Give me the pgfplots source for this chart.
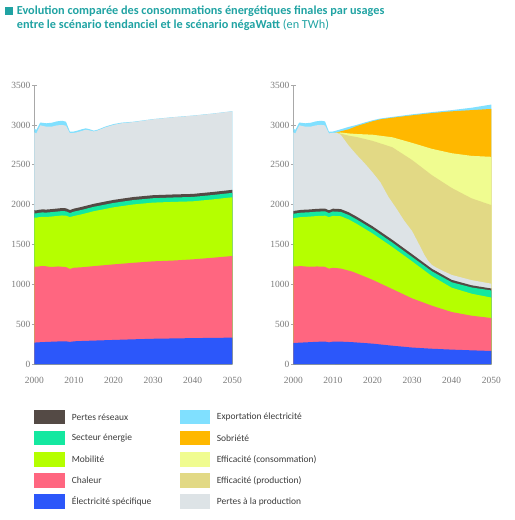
\documentclass[border=0pt]{standalone}
\usepackage{pgfplots}
\pgfplotsset{compat=1.18}
\usepackage{fontspec}
\setmainfont{Carlito}
\newfontfamily\tickfont{Liberation Serif}
\newcommand{\tkf}{\tickfont\fontsize{9.5}{10}\selectfont}
\definecolor{titlecol}{HTML}{20A3A3}
\definecolor{legtext}{HTML}{3C3C3C}
\definecolor{axgray}{HTML}{A8A8A8}
\definecolor{ticktext}{HTML}{7A7A7A}
\definecolor{celec}{HTML}{2C57FA}
\definecolor{cchal}{HTML}{FF6680}
\definecolor{cmob}{HTML}{B5FF00}
\definecolor{csect}{HTML}{14E8A0}
\definecolor{cres}{HTML}{544A45}
\definecolor{cprod}{HTML}{DDE3E6}
\definecolor{cexp}{HTML}{80E0FF}
\definecolor{csob}{HTML}{FFB800}
\definecolor{ccons}{HTML}{F0FC90}
\definecolor{ceffp}{HTML}{E2D985}
\pgfplotsset{myax/.style={
  scale only axis, width=198bp, height=279.3bp,
  xmin=2000, xmax=2050, ymin=0, ymax=3500,
  axis y line*=left, axis x line*=bottom,
  x axis line style={draw=none},
  y axis line style={-, draw=axgray, line width=0.8pt},
  xtick={2000,2010,...,2050}, ytick={0,500,...,3500},
  xtick style={draw=none}, ytick style={draw=axgray, line width=0.6pt},
  tick align=center, major tick length=5bp,
  every tick label/.append style={font=\tkf, text=ticktext},
  xticklabel={\tkf\pgfmathprintnumber[assume math mode=true,set thousands separator={}]{\tick}},
  yticklabel={\tkf\pgfmathprintnumber[assume math mode=true,set thousands separator={}]{\tick}},
  xticklabel style={yshift=-6.5bp},
  yticklabel style={xshift=2bp},
  clip=false,
}}
\begin{document}
\begin{tikzpicture}[x=1bp,y=1bp]
\path[use as bounding box] (0bp,0bp) rectangle (515bp,520bp);
% title
\fill[titlecol] (5bp,505bp) rectangle (12.5bp,512.5bp);
\node[anchor=base west, inner sep=0, text=titlecol, font=\fontsize{12.3}{14}\selectfont\bfseries] at (16.7bp,505bp) {Evolution comparée des consommations énergétiques finales par usages};
\node[anchor=base west, inner sep=0, text=titlecol, font=\fontsize{12.3}{14}\selectfont\bfseries] at (16.7bp,491bp) {entre le scénario tendanciel et le scénario négaWatt \mdseries(en TWh)};

% ---------------- left: scenario tendanciel
\begin{axis}[myax, at={(34.3bp,155.7bp)}, anchor=south west]
% Exportation
\addplot[fill=cexp, draw=none] coordinates {(2000,2957)(2000.5,2935)(2001.5,3030)(2003,3020)(2004.4,3027)(2005.7,3044)(2007,3052)(2008,3040)(2009,2915)(2010,2917)(2011,2930)(2012,2945)(2013,2957)(2014,2945)(2015,2928)(2016,2940)(2017,2960)(2018,2980)(2019,2995)(2020,3010)(2022,3028)(2025,3040)(2030,3073)(2035,3097)(2040,3117)(2045,3142)(2050,3172)} \closedcycle;
% Pertes a la production
\addplot[fill=cprod, draw=none] coordinates {(2000,2907)(2000.5,2892)(2001.5,2995)(2003,2978)(2004.4,2978)(2005.7,2994)(2007,2999)(2008,2990)(2009,2895)(2010,2900)(2011,2910)(2012,2925)(2013,2940)(2014,2930)(2015,2918)(2016,2930)(2017,2950)(2018,2970)(2019,2985)(2020,3000)(2022,3020)(2025,3035)(2030,3070)(2035,3095)(2040,3115)(2045,3140)(2050,3170)} \closedcycle;
% Pertes reseaux
\addplot[fill=cres, draw=none] coordinates {(2000,1931)(2000.5,1929)(2001,1935)(2002,1941)(2003,1939)(2004,1943)(2005,1948)(2006,1953)(2007,1958)(2008,1955)(2009,1933)(2010,1951)(2012,1973)(2015,2011)(2020,2060)(2025,2096)(2030,2119)(2035,2128)(2040,2135)(2045,2159)(2050,2186)} \closedcycle;
% Secteur energie
\addplot[fill=csect, draw=none] coordinates {(2000,1893)(2000.5,1891)(2001,1897)(2002,1903)(2003,1901)(2004,1905)(2005,1910)(2006,1915)(2007,1920)(2008,1917)(2009,1895)(2010,1913)(2012,1935)(2015,1973)(2020,2022)(2025,2058)(2030,2081)(2035,2090)(2040,2097)(2045,2121)(2050,2148)} \closedcycle;
% Mobilite
\addplot[fill=cmob, draw=none] coordinates {(2000,1838)(2000.5,1836)(2001,1842)(2002,1848)(2003,1846)(2004,1850)(2005,1855)(2006,1860)(2007,1865)(2008,1862)(2009,1845)(2010,1858)(2012,1880)(2015,1918)(2020,1967)(2025,2003)(2030,2026)(2035,2035)(2040,2042)(2045,2066)(2050,2093)} \closedcycle;
% Chaleur
\addplot[fill=cchal, draw=none] coordinates {(2000,1222)(2001,1225)(2002,1232)(2003,1228)(2004,1220)(2005,1222)(2006,1226)(2007,1222)(2008,1218)(2009,1195)(2010,1210)(2012,1216)(2015,1230)(2020,1252)(2025,1272)(2030,1290)(2035,1300)(2040,1315)(2045,1335)(2050,1357)} \closedcycle;
% Electricite specifique
\addplot[fill=celec, draw=none] coordinates {(2000,272)(2001,275)(2002,278)(2003,280)(2004,282)(2005,284)(2006,286)(2007,288)(2008,288)(2009,280)(2010,288)(2012,292)(2015,297)(2020,305)(2025,313)(2030,320)(2035,324)(2040,328)(2045,331)(2050,334)} \closedcycle;
\end{axis}

% ---------------- right: scenario negaWatt
\begin{axis}[myax, at={(293.3bp,155.7bp)}, anchor=south west]
% Exportation
\addplot[fill=cexp, draw=none] coordinates {(2000,2957)(2000.5,2935)(2001.5,3030)(2003,3020)(2004.4,3027)(2005.7,3044)(2007,3052)(2008,3044)(2009,2915)(2010,2917)(2012,2945)(2014,2975)(2016,3000)(2018,3030)(2020,3058)(2022,3080)(2025,3100)(2030,3132)(2035,3160)(2040,3185)(2045,3215)(2050,3255)} \closedcycle;
% Sobriete
\addplot[fill=csob, draw=none] coordinates {(2010.5,2900)(2011,2905)(2012,2920)(2014,2945)(2016,2985)(2018,3015)(2020,3045)(2022,3070)(2025,3090)(2030,3120)(2035,3148)(2040,3170)(2045,3185)(2050,3200)} \closedcycle;
% Efficacite (consommation)
\addplot[fill=ccons, draw=none] coordinates {(2010.5,2900)(2011,2902)(2012,2905)(2014,2893)(2016,2886)(2020,2877)(2025,2845)(2030,2775)(2035,2700)(2040,2645)(2045,2612)(2050,2600)} \closedcycle;
% Efficacite (production)
\addplot[fill=ceffp, draw=none] coordinates {(2010.5,2900)(2011,2900)(2012,2890)(2014,2865)(2016,2848)(2020,2800)(2025,2720)(2030,2560)(2035,2370)(2040,2210)(2045,2080)(2050,1995)} \closedcycle;
% Pertes a la production
\addplot[fill=cprod, draw=none] coordinates {(2000,2907)(2000.5,2892)(2001.5,2995)(2003,2978)(2004.4,2978)(2005.7,2994)(2007,3000)(2008,2994)(2009,2894)(2010,2900)(2011,2900)(2012,2875)(2014,2740)(2016,2625)(2018,2520)(2020,2405)(2022,2280)(2024,2100)(2026,1955)(2028,1800)(2030,1670)(2032,1480)(2033,1380)(2034,1300)(2035,1245)(2036,1215)(2038,1165)(2040,1120)(2045,1055)(2050,1010)} \closedcycle;
% Pertes reseaux
\addplot[fill=cres, draw=none] coordinates {(2000,1921)(2002,1935)(2004,1940)(2006,1948)(2008,1952)(2009,1930)(2010,1950)(2012,1945)(2014,1905)(2016,1850)(2018,1790)(2020,1730)(2025,1560)(2030,1380)(2035,1197)(2040,1058)(2045,990)(2050,950)} \closedcycle;
% Secteur energie
\addplot[fill=csect, draw=none] coordinates {(2000,1886)(2002,1900)(2004,1905)(2006,1913)(2008,1917)(2009,1895)(2010,1915)(2012,1910)(2014,1870)(2016,1815)(2018,1755)(2020,1695)(2025,1525)(2030,1345)(2035,1165)(2040,1028)(2045,963)(2050,925)} \closedcycle;
% Mobilite
\addplot[fill=cmob, draw=none] coordinates {(2000,1831)(2002,1845)(2004,1850)(2006,1858)(2008,1862)(2009,1845)(2010,1860)(2012,1855)(2014,1815)(2016,1760)(2018,1700)(2020,1640)(2025,1470)(2030,1290)(2035,1105)(2040,960)(2045,885)(2050,836)} \closedcycle;
% Chaleur
\addplot[fill=cchal, draw=none] coordinates {(2000,1226)(2002,1230)(2004,1222)(2006,1226)(2008,1222)(2009,1198)(2010,1210)(2012,1200)(2015,1160)(2018,1100)(2020,1059)(2025,943)(2030,826)(2035,734)(2040,655)(2045,609)(2050,580)} \closedcycle;
% Electricite specifique
\addplot[fill=celec, draw=none] coordinates {(2000,267)(2002,272)(2004,277)(2006,282)(2008,285)(2009,275)(2010,284)(2012,284)(2015,277)(2020,259)(2025,233)(2030,210)(2035,195)(2040,184)(2045,175)(2050,167)} \closedcycle;
\end{axis}

% ---------------- legend
\begin{scope}[font=\fontsize{9.5}{11}\selectfont]
\foreach \c/\t [count=\i from 0] in {cres/Pertes réseaux, csect/Secteur énergie, cmob/Mobilité, cchal/Chaleur, celec/Électricité spécifique}{
  \pgfmathsetmacro{\yy}{520-417.2-21.1*\i}
  \fill[\c] (34.3bp,\yy bp-7.2bp) rectangle (65bp,\yy bp+7.2bp);
  \node[anchor=west, inner sep=0, text=legtext] at (71.7bp,\yy bp) {\t};
}
\foreach \c/\t [count=\i from 0] in {cexp/Exportation électricité, csob/Sobriété, ccons/Efficacité (consommation), ceffp/Efficacité (production), cprod/Pertes à la production}{
  \pgfmathsetmacro{\yy}{520-417.2-21.1*\i}
  \fill[\c] (180bp,\yy bp-7.2bp) rectangle (210bp,\yy bp+7.2bp);
  \node[anchor=west, inner sep=0, text=legtext] at (216.7bp,\yy bp) {\t};
}
\end{scope}
\end{tikzpicture}
\end{document}
